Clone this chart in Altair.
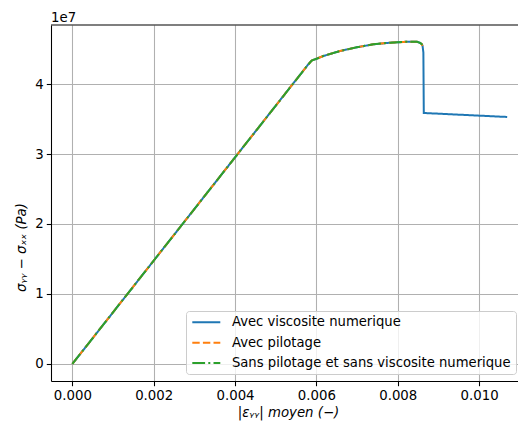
import altair as alt
import pandas as pd

series_names = [
    "Avec viscosite numerique",
    "Avec pilotage",
    "Sans pilotage et sans viscosite numerique",
]
series_colors = ["#1f77b4", "#ff7f0e", "#2ca02c"]
series_dashes = [[1, 0], [7.4, 3.2], [12.8, 3.2, 2, 3.2]]

# shared part of the three curves (strain, stress in Pa)
strain_common = [0.0, 0.00580, 0.005885, 0.00600, 0.00617, 0.00658, 0.00699,
                 0.00740, 0.00781, 0.00822, 0.00847, 0.00855, 0.00859, 0.00861]
stress_common = [0.0, 4.28e7, 4.335e7, 4.36e7, 4.40e7, 4.471e7, 4.524e7,
                 4.567e7, 4.590e7, 4.604e7, 4.604e7, 4.588e7, 4.57e7, 4.545e7]
# after the peak, only the viscous run continues
strain_tail = [0.00863, 0.00864, 0.01069]
stress_tail = [4.45e7, 3.586e7, 3.529e7]

x_ticks = [0.0, 0.002, 0.004, 0.006, 0.008, 0.010]
y_ticks = [0, 1e7, 2e7, 3e7, 4e7]
offset_label = ["1e7"]

rows = []
for s_i, name in enumerate(series_names):
    xs = list(strain_common)
    ys = list(stress_common)
    if s_i == 0:
        xs += strain_tail
        ys += stress_tail
    for k, (xv, yv) in enumerate(zip(xs, ys)):
        rows.append({"serie": name, "idx": k, "strain": xv, "stress": yv})
df = pd.DataFrame(rows)
one_row = pd.DataFrame({"label": offset_label})

W, H = 467, 356
font = "DejaVu Sans"

x_enc = alt.X(
    "strain:Q",
    scale=alt.Scale(domain=[-0.000524, 0.010956], nice=False, zero=False),
    axis=alt.Axis(
        values=x_ticks, format=".3f", title="|εᵧᵧ| moyen (−)",
        titleFontStyle="italic", titleFontWeight="normal",
        titleX=237, titleY=35, titleBaseline="alphabetic",
    ),
)
y_enc = alt.Y(
    "stress:Q",
    scale=alt.Scale(domain=[-2.43e6, 4.843e7], nice=False, zero=False),
    axis=alt.Axis(
        values=y_ticks, labelExpr="format(datum.value/1e7, 'd')",
        title="σᵧᵧ − σₓₓ (Pa)", titleFontStyle="italic", titleFontWeight="normal",
        titleX=-26, titleY=222, titleBaseline="alphabetic", titleAngle=-90,
        titleAlign="center",
    ),
)
legend = alt.Legend(
    title=None, orient="none", legendX=135, legendY=286,
    symbolType="M-2.8,0H2.8", symbolSize=100, symbolStrokeWidth=2, symbolOffset=9,
    labelFont=font, labelFontSize=13.2, labelColor="#000000",
    labelOffset=19, rowPadding=6.4, padding=4.7,
    fillColor="rgba(255,255,255,0.8)", strokeColor="#cccccc", cornerRadius=3,
    labelLimit=400,
)
color_enc = alt.Color("serie:N", scale=alt.Scale(domain=series_names, range=series_colors), legend=legend)
dash_enc = alt.StrokeDash("serie:N", scale=alt.Scale(domain=series_names, range=series_dashes), legend=legend)

layers = []
for name in series_names:
    layers.append(
        alt.Chart(df)
        .transform_filter(alt.datum.serie == name)
        .mark_line(strokeWidth=2)
        .encode(x=x_enc, y=y_enc, color=color_enc, strokeDash=dash_enc, order="idx:Q")
    )

top_spine = alt.Chart(one_row).mark_rule(color="#000000", strokeWidth=1.07).encode(
    x=alt.value(0), x2=alt.value(W), y=alt.value(0)
)
offset_text = alt.Chart(one_row).mark_text(
    align="left", baseline="alphabetic", font=font, fontSize=13.3,
    fontWeight="normal", color="#000000"
).encode(x=alt.value(0), y=alt.value(-3), text="label:N")

chart = (
    alt.layer(*layers, top_spine, offset_text)
    .properties(
        width=W, height=H,
        autosize=alt.AutoSizeParams(type="none"),
        padding={"left": 43, "top": 17, "right": 0, "bottom": 40},
    )
    .configure(background="white")
    .configure_view(stroke=None)
    .configure_axis(
        labelFont=font, labelFontSize=13.3, labelColor="#000000",
        titleFont=font, titleFontSize=13.3, titleColor="#000000",
        domainColor="#000000", domainWidth=1.07,
        tickColor="#000000", tickWidth=1.07, tickSize=4.7,
        gridColor="#b0b0b0", gridWidth=1.07, labelPadding=3,
    )
)

chart.save("out.html", embed_options={"renderer": "svg", "actions": False})
